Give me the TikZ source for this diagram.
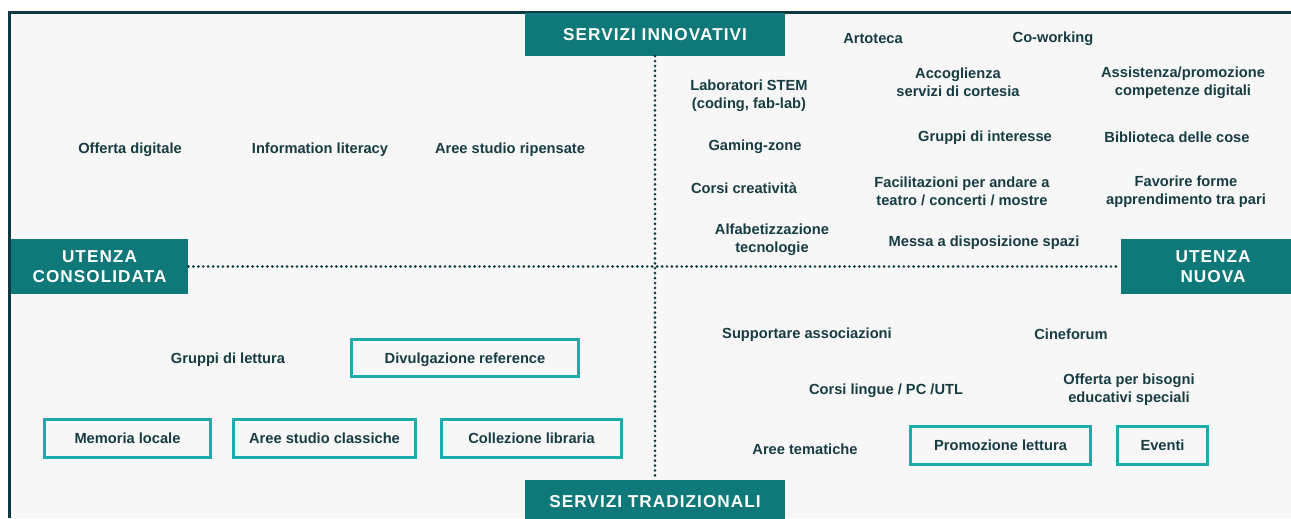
\documentclass[tikz,border=0pt]{standalone}
\usepackage{fontspec}
\setmainfont{Liberation Sans}
\newfontfamily\headfont[LetterSpace=6]{Liberation Sans}
\definecolor{framecol}{HTML}{0D3A40}
\definecolor{headcol}{HTML}{0F7878}
\definecolor{boxcol}{HTML}{1AABAB}
\definecolor{textcol}{HTML}{173C42}
\definecolor{bgcol}{HTML}{F7F7F7}
\tikzset{
    item/.style={text=textcol, font=\fontsize{11pt}{13.5pt}\selectfont\bfseries, align=center, inner sep=0pt, yshift=-1.2pt},
    boxitem/.style={item, draw=boxcol, line width=2.2pt, fill=bgcol, minimum height=28pt, yshift=1.2pt, text height=9.5pt, text depth=1.5pt},
    head/.style={fill=headcol, text=white, font=\headfont\fontsize{12.9pt}{15pt}\selectfont\bfseries, align=center, inner sep=0pt},
    dotline/.style={framecol, line width=2.2pt, line cap=round, dash pattern=on 0pt off 3.7pt}
}

\begin{document}
\begin{tikzpicture}[x=0.75pt, y=-0.75pt]
    \useasboundingbox (0,0) rectangle (1291,518);
    %Frame
    \fill[bgcol] (9,12) rectangle (1291,518);
    \draw[framecol, line width=2.4pt] (9.5,518) -- (9.5,12.5) -- (1291,12.5);

    %Axis labels
    \node[head, minimum width=195pt, minimum height=32pt] (innov) at (655,34.5) {SERVIZI INNOVATIVI};
    \node[head, minimum width=195pt, minimum height=32pt] (trad) at (655,501.5) {SERVIZI TRADIZIONALI};
    \node[head, minimum width=133pt, minimum height=41pt] (cons) at (99.5,266.5) {UTENZA\\CONSOLIDATA};
    \node[head, minimum width=138pt, minimum height=41pt] (nuova) at (1213,266.5) {UTENZA\\NUOVA};

    %Axes
    \draw[dotline] (innov.south) -- (trad.north);
    \draw[dotline] (cons.east) -- (nuova.west);

    %Servizi innovativi
    \node[item] (artoteca) at (873,37) {Artoteca};
    \node[item] (cowork) at (1053,37) {Co-working};
    \node[item] (stem) at (749,94) {Laboratori STEM\\(coding, fab-lab)};
    \node[item] (accog) at (958,81) {Accoglienza\\servizi di cortesia};
    \node[item] (assist) at (1183,81) {Assistenza/promozione\\competenze digitali};
    \node[item] (digit) at (130,148) {Offerta digitale};
    \node[item] (infolit) at (320,148) {Information literacy};
    \node[item] (aree) at (510,148) {Aree studio ripensate};
    \node[item] (gaming) at (755,145) {Gaming-zone};
    \node[item] (gruppi) at (985,136) {Gruppi di interesse};
    \node[item] (cose) at (1177,136) {Biblioteca delle cose};
    \node[item] (creat) at (744,187) {Corsi creatività};
    \node[item] (facil) at (962,190) {Facilitazioni per andare a\\teatro / concerti / mostre};
    \node[item] (pari) at (1186,190) {Favorire forme\\apprendimento tra pari};
    \node[item] (alfab) at (772,238) {Alfabetizzazione\\tecnologie};
    \node[item] (spazi) at (984,241) {Messa a disposizione spazi};

    %Servizi tradizionali
    \node[item] (assoc) at (807,333) {Supportare associazioni};
    \node[item] (cine) at (1071,333) {Cineforum};
    \node[item] (lettura) at (228,358) {Gruppi di lettura};
    \node[item] (lingue) at (886,389) {Corsi lingue / PC /UTL};
    \node[item] (bes) at (1129,388) {Offerta per bisogni\\educativi speciali};
    \node[item] (temat) at (805,448) {Aree tematiche};
    \node[boxitem, minimum width=170pt] (divulg) at (465,358) {Divulgazione reference};
    \node[boxitem, minimum width=124pt] (memoria) at (127.5,438.5) {Memoria locale};
    \node[boxitem, minimum width=136pt] (classic) at (324.5,438.5) {Aree studio classiche};
    \node[boxitem, minimum width=135pt] (collez) at (531.5,438.5) {Collezione libraria};
    \node[boxitem, minimum width=135pt] (promoz) at (1000.5,445.5) {Promozione lettura};
    \node[boxitem, minimum width=67pt] (eventi) at (1162.5,445.5) {Eventi};
\end{tikzpicture}
\end{document}
